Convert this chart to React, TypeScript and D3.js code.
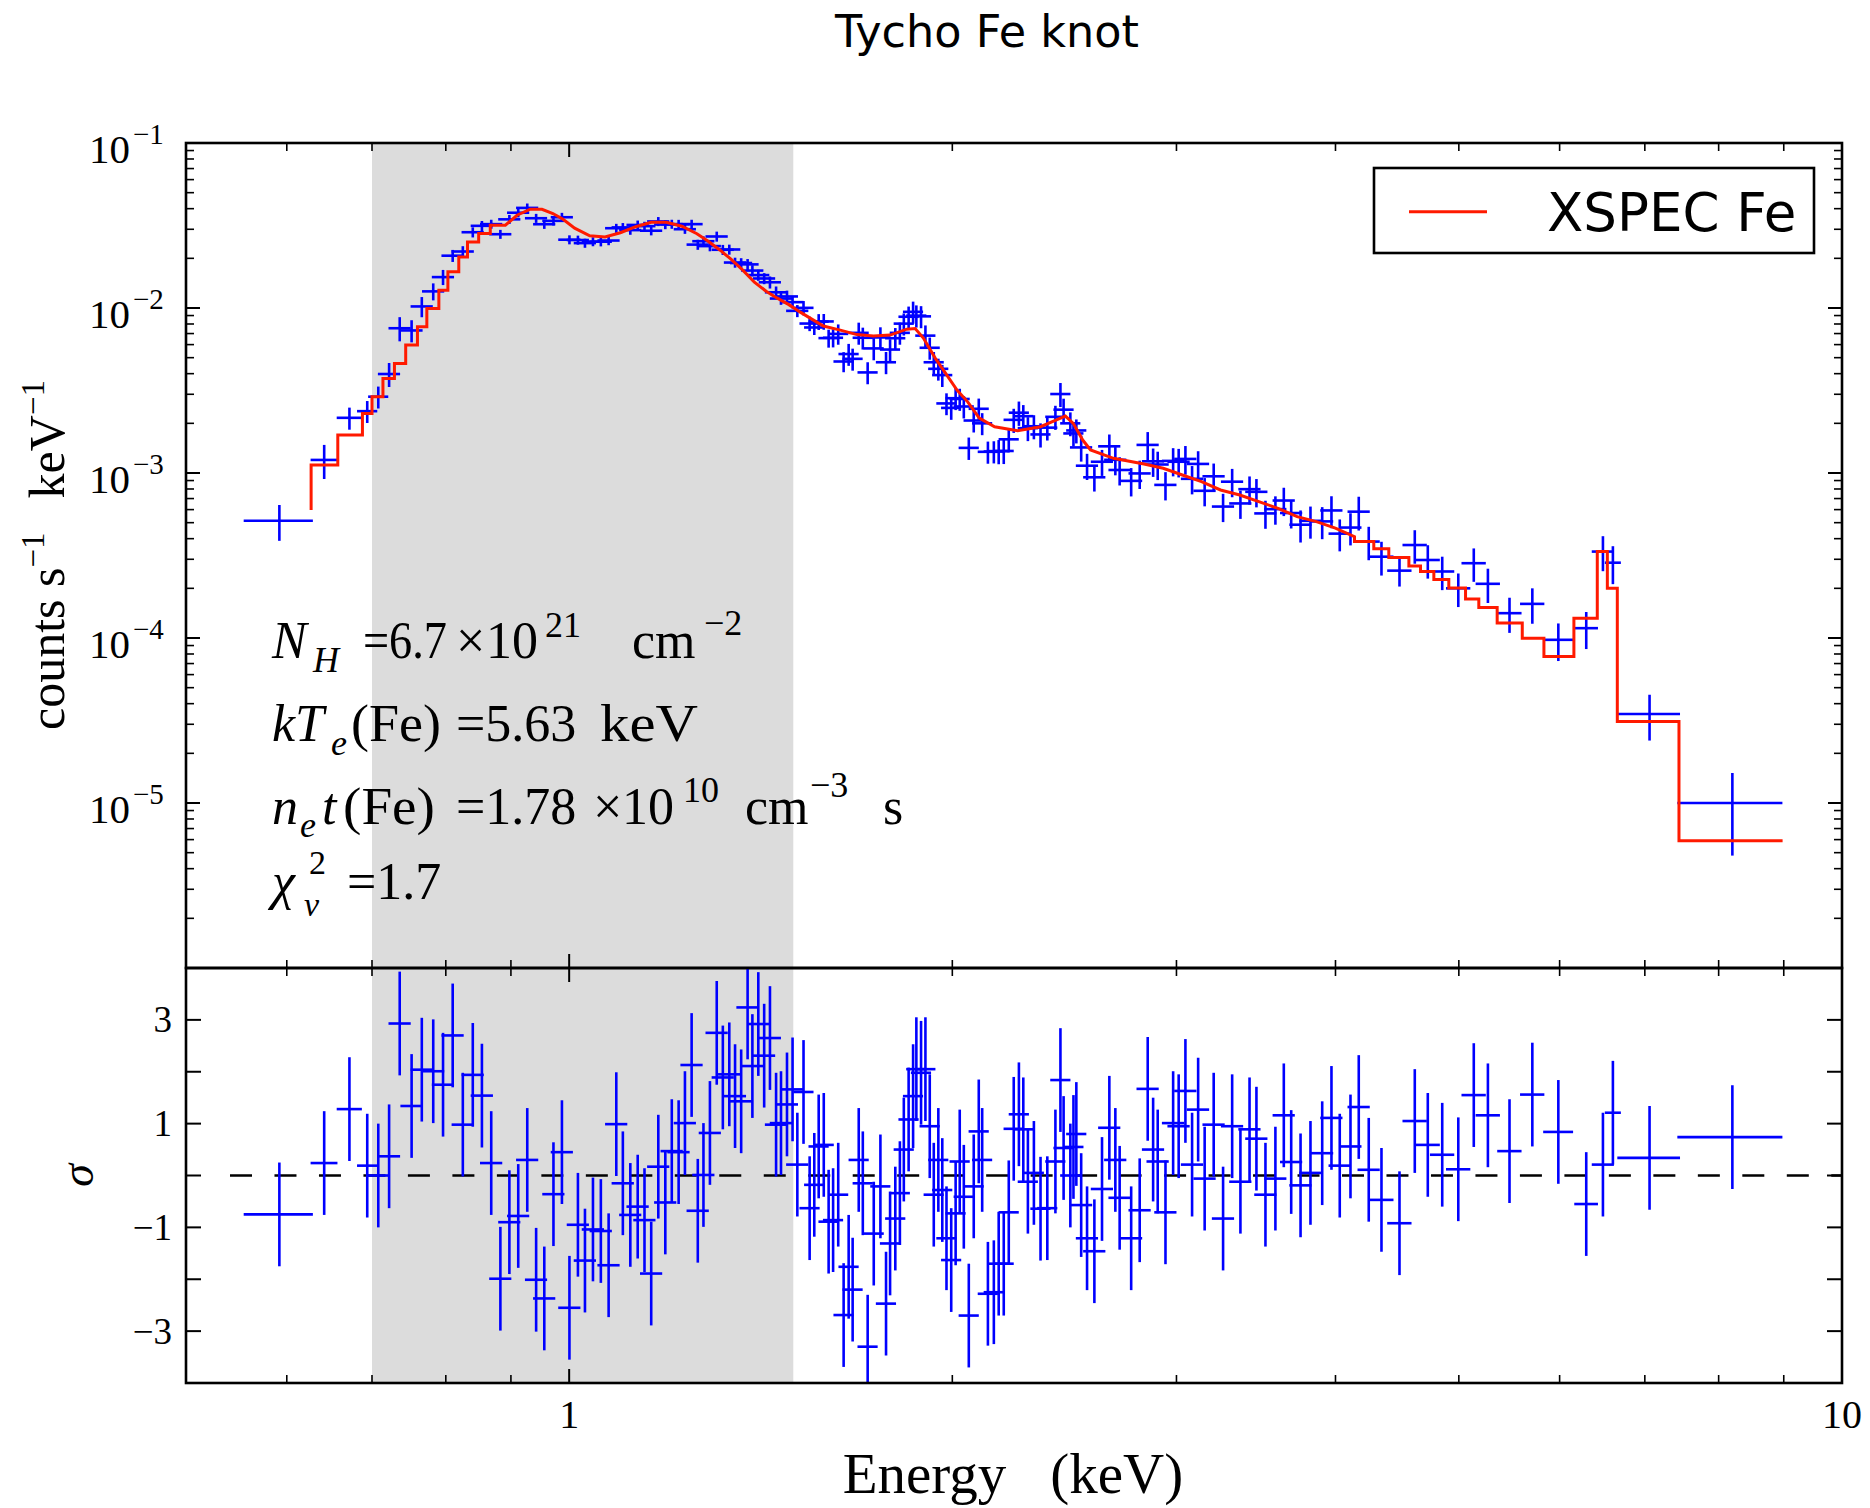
import React from "react";
import * as d3 from "d3";

// ---------------- data ----------------
const energyKeV = [
  0.592, 0.642, 0.672, 0.694, 0.708, 0.722, 0.736, 0.752, 0.766, 0.782,
  0.796, 0.81, 0.825, 0.84, 0.854, 0.8685, 0.883, 0.8975, 0.912, 0.927,
  0.942, 0.956, 0.972, 0.987, 1.0005, 1.016, 1.029, 1.044, 1.059, 1.074,
  1.089, 1.102, 1.117, 1.132, 1.146, 1.16, 1.175, 1.19, 1.204, 1.219,
  1.233, 1.248, 1.262, 1.275, 1.29, 1.306, 1.3205, 1.336, 1.35, 1.365,
  1.381, 1.393, 1.408, 1.423, 1.438, 1.454, 1.467, 1.483, 1.498, 1.511,
  1.528, 1.545, 1.558, 1.5705, 1.585, 1.599, 1.612, 1.627, 1.643, 1.658,
  1.67, 1.6885, 1.701, 1.716, 1.735, 1.756, 1.774, 1.787, 1.804, 1.819,
  1.832, 1.848, 1.863, 1.874, 1.89, 1.905, 1.92, 1.934, 1.95, 1.964,
  1.979, 1.996, 2.012, 2.027, 2.042, 2.0605, 2.079, 2.098, 2.111, 2.133,
  2.156, 2.175, 2.195, 2.215, 2.235, 2.256, 2.274, 2.293, 2.318, 2.346,
  2.375, 2.41, 2.432, 2.446, 2.476, 2.49, 2.503, 2.525, 2.552, 2.586,
  2.622, 2.657, 2.686, 2.707, 2.764, 2.807, 2.848, 2.876, 2.9, 2.941,
  2.982, 3.012, 3.049, 3.086, 3.12, 3.157, 3.209, 3.264, 3.318, 3.368,
  3.424, 3.467, 3.524, 3.588, 3.643, 3.692, 3.755, 3.823, 3.905, 3.971,
  4.031, 4.11, 4.172, 4.248, 4.347, 4.491, 4.617, 4.727, 4.852, 4.995,
  5.137, 5.27, 5.48, 5.711, 5.986, 6.296, 6.489, 6.607, 7.06, 8.201,
];

const energyHalfWidthKeV = [
  0.037, 0.0156, 0.0153, 0.0127, 0.0129, 0.0145, 0.0148, 0.0151, 0.0154, 0.0157,
  0.016, 0.0163, 0.0166, 0.0169, 0.0172, 0.0175, 0.0177, 0.018, 0.0183, 0.0186,
  0.0189, 0.0192, 0.0195, 0.0198, 0.0201, 0.0204, 0.0207, 0.021, 0.0213, 0.0216,
  0.0219, 0.0222, 0.0224, 0.0228, 0.023, 0.0233, 0.0236, 0.0239, 0.0242, 0.0245,
  0.0248, 0.0251, 0.0254, 0.0256, 0.0259, 0.0263, 0.0265, 0.0269, 0.0271, 0.0274,
  0.0278, 0.028, 0.0283, 0.0286, 0.0289, 0.0292, 0.0295, 0.0298, 0.0301, 0.0304,
  0.0279, 0.0282, 0.0285, 0.0287, 0.029, 0.0292, 0.0294, 0.0297, 0.03, 0.0303,
  0.0305, 0.0308, 0.0311, 0.0313, 0.0317, 0.032, 0.0324, 0.0326, 0.033, 0.0332,
  0.0334, 0.0338, 0.034, 0.0342, 0.0345, 0.0348, 0.0351, 0.0353, 0.0356, 0.0359,
  0.0361, 0.0364, 0.0367, 0.037, 0.0373, 0.0376, 0.038, 0.0383, 0.0385, 0.039,
  0.0394, 0.0397, 0.04, 0.0404, 0.0408, 0.0412, 0.0415, 0.0419, 0.0423, 0.0428,
  0.0434, 0.044, 0.0444, 0.0447, 0.0452, 0.0455, 0.0457, 0.0508, 0.0513, 0.052,
  0.0527, 0.0534, 0.054, 0.0544, 0.0556, 0.0564, 0.0572, 0.0578, 0.0583, 0.0591,
  0.06, 0.0606, 0.0613, 0.062, 0.0627, 0.0635, 0.0645, 0.0656, 0.0667, 0.0677,
  0.0688, 0.0697, 0.0708, 0.0721, 0.0732, 0.0742, 0.0755, 0.0768, 0.0785, 0.0798,
  0.081, 0.0826, 0.0839, 0.0854, 0.0955, 0.0988, 0.1016, 0.104, 0.1067, 0.11,
  0.113, 0.116, 0.1206, 0.1256, 0.162, 0.135, 0.13, 0.096, 0.4, 0.777,
];

const countRate = [
  5.14e-4, 1.2e-3, 2.16e-3, 2.37e-3, 2.9e-3, 3.98e-3, 7.54e-3, 7.31e-3, 1.022e-2, 1.261e-2,
  1.539e-2, 2.075e-2, 2.2e-2, 2.879e-2, 3.148e-2, 3.223e-2, 2.8e-2, 3.446e-2, 3.779e-2, 4.043e-2,
  3.5e-2, 3.219e-2, 3.375e-2, 3.549e-2, 2.594e-2, 2.582e-2, 2.473e-2, 2.526e-2, 2.522e-2, 2.564e-2,
  3.045e-2, 3.079e-2, 2.965e-2, 3.187e-2, 3.134e-2, 2.94e-2, 3.347e-2, 3.205e-2, 3.223e-2, 3.219e-2,
  3.003e-2, 3.223e-2, 2.422e-2, 2.54e-2, 2.372e-2, 2.713e-2, 2.254e-2, 2.263e-2, 1.886e-2, 1.873e-2,
  1.838e-2, 1.686e-2, 1.583e-2, 1.51e-2, 1.432e-2, 1.245e-2, 1.141e-2, 1.175e-2, 1.085e-2, 9.61e-3,
  1.002e-2, 8.05e-3, 7.62e-3, 8.27e-3, 8.29e-3, 6.57e-3, 6.6e-3, 6.97e-3, 4.74e-3, 5.26e-3,
  4.92e-3, 7.07e-3, 6.6e-3, 4.07e-3, 5.69e-3, 6.63e-3, 4.69e-3, 5.6e-3, 6.56e-3, 7.07e-3,
  8.04e-3, 8.85e-3, 9.48e-3, 8.99e-3, 8.9e-3, 6.8e-3, 5.74e-3, 4.69e-3, 4.28e-3, 3.92e-3,
  2.64e-3, 2.48e-3, 2.84e-3, 2.81e-3, 2.53e-3, 1.42e-3, 2.08e-3, 2.45e-3, 2.0e-3, 1.344e-3,
  1.35e-3, 1.357e-3, 1.36e-3, 1.6e-3, 2.1e-3, 2.32e-3, 2.21e-3, 1.87e-3, 1.92e-3, 1.713e-3,
  1.883e-3, 2.19e-3, 3.01e-3, 2.42e-3, 2.0e-3, 1.737e-3, 1.811e-3, 1.429e-3, 1.107e-3, 9.42e-4,
  1.17e-3, 1.451e-3, 1.202e-3, 1.043e-3, 8.96e-4, 9.94e-4, 1.48e-3, 1.177e-3, 1.126e-3, 8.47e-4,
  1.184e-3, 1.17e-3, 1.217e-3, 9.22e-4, 1.135e-3, 7.8e-4, 9.55e-4, 6.26e-4, 8.86e-4, 6.54e-4,
  7.98e-4, 7.69e-4, 5.69e-4, 6.04e-4, 6.81e-4, 5.72e-4, 4.86e-4, 5.13e-4, 5.09e-4, 5.93e-4,
  4.29e-4, 4.67e-4, 5.83e-4, 3.84e-4, 3.11e-4, 2.56e-4, 3.66e-4, 2.97e-4, 2.53e-4, 2.0e-4,
  2.84e-4, 2.13e-4, 1.414e-4, 1.61e-4, 9.75e-5, 1.147e-4, 3.34e-4, 2.86e-4, 3.46e-5, 1.0e-5,
];

const countRateErr = [
  1.26e-4, 2.8e-4, 3.3e-4, 3.6e-4, 4.4e-4, 6.6e-4, 1.26e-3, 1.12e-3, 1.43e-3, 1.49e-3,
  1.62e-3, 1.74e-3, 1.69e-3, 2.02e-3, 2.2e-3, 2.03e-3, 1.76e-3, 2.17e-3, 2.38e-3, 2.55e-3,
  2.2e-3, 2.03e-3, 2.13e-3, 2.24e-3, 1.63e-3, 1.63e-3, 1.56e-3, 1.59e-3, 1.59e-3, 1.62e-3,
  1.92e-3, 1.94e-3, 1.87e-3, 2.01e-3, 1.97e-3, 1.85e-3, 2.11e-3, 2.02e-3, 2.03e-3, 2.03e-3,
  1.89e-3, 2.03e-3, 1.7e-3, 1.78e-3, 1.66e-3, 1.9e-3, 1.58e-3, 1.58e-3, 1.32e-3, 1.31e-3,
  1.42e-3, 1.3e-3, 1.22e-3, 1.16e-3, 1.2e-3, 1.05e-3, 9.6e-4, 9.9e-4, 9.1e-4, 8.1e-4,
  1.0e-3, 8.1e-4, 7.6e-4, 9.1e-4, 9.1e-4, 8.2e-4, 8.3e-4, 9.8e-4, 6.6e-4, 8.0e-4,
  7.5e-4, 1.08e-3, 1.0e-3, 6.2e-4, 8.7e-4, 1.01e-3, 7.2e-4, 8.6e-4, 1.0e-3, 1.08e-3,
  1.23e-3, 1.35e-3, 1.45e-3, 1.38e-3, 1.36e-3, 1.04e-3, 8.8e-4, 7.2e-4, 6.5e-4, 6.0e-4,
  4.0e-4, 3.8e-4, 4.35e-4, 4.3e-4, 3.9e-4, 2.2e-4, 3.2e-4, 3.75e-4, 3.05e-4, 2.06e-4,
  2.07e-4, 2.27e-4, 2.27e-4, 2.67e-4, 3.5e-4, 3.9e-4, 3.7e-4, 3.1e-4, 3.2e-4, 2.86e-4,
  3.1e-4, 3.65e-4, 5.0e-4, 4.0e-4, 3.3e-4, 2.9e-4, 3.0e-4, 2.57e-4, 2.0e-4, 1.7e-4,
  2.1e-4, 2.6e-4, 2.34e-4, 2.03e-4, 1.75e-4, 1.94e-4, 2.9e-4, 2.3e-4, 2.2e-4, 1.65e-4,
  2.3e-4, 2.3e-4, 2.4e-4, 1.8e-4, 2.2e-4, 1.52e-4, 1.86e-4, 1.22e-4, 1.73e-4, 1.27e-4,
  1.55e-4, 1.5e-4, 1.1e-4, 1.18e-4, 1.33e-4, 1.11e-4, 1.07e-4, 1.13e-4, 1.12e-4, 1.3e-4,
  9.4e-5, 1.03e-4, 1.35e-4, 8.8e-5, 7.2e-5, 5.1e-5, 8.4e-5, 6.8e-5, 5.8e-5, 4.6e-5,
  6.5e-5, 5.0e-5, 3.4e-5, 3.9e-5, 2.5e-5, 2.9e-5, 8.0e-5, 7.4e-5, 1.07e-5, 5.2e-6,
];

const residualSigma = [
  -0.75, 0.24, 1.28, 0.19, 0.0, 0.37, 2.93, 1.34, 2.04, 2.01,
  1.75, 2.7, 0.98, 1.94, 1.54, 0.24, -1.99, -0.9, -0.78, 0.3,
  -2.01, -2.37, -0.36, 0.45, -2.55, -0.95, -1.64, -1.04, -1.07, -1.73,
  0.99, -0.15, -0.76, -0.6, -0.86, -1.89, 0.17, -0.52, 0.47, 0.45,
  1.01, 2.13, -0.68, 0.01, 0.82, 2.75, 1.89, 1.95, 1.53, 1.43,
  3.24, 2.11, 2.92, 2.31, 2.65, 0.98, 1.01, 1.37, 1.66, 0.21,
  1.61, -0.63, -0.18, 0.56, 0.59, -0.89, -0.86, -0.37, -2.69, -1.76,
  -2.2, 0.3, -0.15, -3.3, -1.12, -0.21, -2.47, -1.31, -0.83, -0.34,
  0.5, 1.08, 1.53, 2.05, 1.98, 2.05, 0.95, -0.37, 0.3, -0.28,
  -1.21, -1.63, -0.73, 0.27, -0.41, -2.7, -0.21, 0.85, 0.3, -2.28,
  -2.25, -1.7, -1.7, -0.71, 0.9, 1.18, 0.89, -0.12, 0.05, -0.64,
  -0.63, 0.27, 1.84, 0.53, 0.0, 0.55, 0.8, -0.57, -1.21, -1.46,
  -0.26, 0.92, 0.3, -0.43, -1.21, -0.67, 1.67, 0.5, 0.27, -0.71,
  1.01, 0.95, 1.63, 0.21, 1.27, -0.06, 0.98, -0.83, 0.95, -0.12,
  0.89, 0.71, -0.37, -0.06, 1.16, 0.26, -0.19, 0.05, 0.43, 1.11,
  0.19, 0.56, 1.32, 0.11, -0.47, -0.92, 1.05, 0.59, 0.4, 0.12,
  1.55, 1.16, 0.47, 1.56, 0.84, -0.55, 0.21, 1.21, 0.34, 0.74,
];

// XSPEC model: value of each model bin, keyed by the bin's upper edge
const modelUpperEdgeKeV = [
  0.627, 0.658, 0.688, 0.7, 0.714, 0.729, 0.744, 0.76, 0.773, 0.79, 0.803, 0.819, 0.832, 0.849, 0.867, 0.891,
  0.91, 0.932, 0.952, 0.971, 0.989, 1.01, 1.038, 1.067, 1.097, 1.128, 1.16, 1.192, 1.226, 1.26,
  1.286, 1.314, 1.34, 1.369, 1.398, 1.428, 1.457, 1.488, 1.519, 1.551, 1.584,
  1.633, 1.683, 1.734, 1.787, 1.842, 1.87, 1.898, 1.939, 1.973, 2.017, 2.057, 2.1,
  2.159, 2.251, 2.346, 2.412, 2.454, 2.489, 2.532, 2.568,
  2.677, 2.829, 2.929, 3.032, 3.139, 3.249, 3.364, 3.482, 3.605, 3.732, 3.864, 3.999, 4.14,
  4.287, 4.405, 4.568, 4.665, 4.779, 4.91, 5.061, 5.184, 5.359, 5.608, 5.832, 6.157, 6.423, 6.541, 6.66, 7.446, 8.981,
];
const modelCountRate = [
  5.97e-4, 1.118e-3, 1.699e-3, 2.298e-3, 2.897e-3, 3.745e-3, 4.617e-3, 5.958e-3, 7.689e-3, 9.94e-3, 1.283e-2, 1.656e-2, 2.04e-2, 2.515e-2, 2.827e-2, 3.174e-2,
  3.649e-2, 3.968e-2, 3.968e-2, 3.737e-2, 3.451e-2, 3.045e-2, 2.742e-2, 2.696e-2, 2.859e-2, 3.109e-2, 3.309e-2, 3.309e-2, 3.13e-2, 2.819e-2,
  2.54e-2, 2.24e-2, 1.976e-2, 1.695e-2, 1.434e-2, 1.265e-2, 1.147e-2, 1.048e-2, 9.44e-3, 8.56e-3, 7.77e-3,
  7.34e-3, 6.9e-3, 6.755e-3, 6.85e-3, 7.44e-3, 7.5e-3, 6.57e-3, 4.97e-3, 4.09e-3, 3.18e-3, 2.69e-3, 2.153e-3,
  1.907e-3, 1.804e-3, 1.907e-3, 2.094e-3, 2.214e-3, 2.0e-3, 1.584e-3, 1.378e-3,
  1.227e-3, 1.134e-3, 1.068e-3, 9.72e-4, 8.86e-4, 7.89e-4, 7.36e-4, 6.7e-4, 6.11e-4, 5.44e-4, 5.07e-4, 4.63e-4, 4.11e-4,
  3.84e-4, 3.47e-4, 3.08e-4, 2.735e-4, 2.532e-4, 2.265e-4, 2.012e-4, 1.726e-4, 1.533e-4, 1.235e-4, 9.98e-5, 7.72e-5, 1.319e-4, 3.34e-4, 2.003e-4, 3.12e-5, 5.91e-6,
];

// bins narrower than the pixel grid look smooth: model drawn as steps only below / above these energies
const modelStepBelowKeV = 0.9;
const modelStepAboveKeV = 4.1;

const shadedBandKeV = [0.7, 1.5];
const xTickLabels = ["1", "10"];
const xTickLabelValues = [1, 10];
const yTickExponents = [-1, -2, -3, -4, -5];
const residualTickLabels = [3, 1, -1, -3];
const residualTickValues = [-3, -2, -1, 0, 1, 2, 3];

const titleText = "Tycho Fe knot";
const legendLabel = "XSPEC Fe";

// ---------------- chart ----------------
const W = 1870;
const H = 1508;
const LEFT = 186;
const RIGHT = 1842;
const TOP1 = 143;
const BOT1 = 968;
const BOT2 = 1383;

const BLUE = "#0000ff";
const RED = "#ff1a00";
const SERIF = "'Liberation Serif', 'Times New Roman', serif";
const SANS = "'DejaVu Sans', 'Bitstream Vera Sans', sans-serif";

const isPow10 = (v: number) => Math.abs(Math.log10(v) - Math.round(Math.log10(v))) < 1e-6;

export default function App() {
  const x = d3.scaleLog().domain([0.5, 10]).range([LEFT, RIGHT]);
  const yTop = d3.scaleLog().domain([1e-6, 1e-1]).range([BOT1, TOP1]);
  const yRes = d3.scaleLinear().domain([-4, 4]).range([BOT2, BOT1]);

  // model step path
  const pts: [number, number][] = [];
  modelUpperEdgeKeV.forEach((e, i) => {
    if (i > 0) {
      const prev = modelUpperEdgeKeV[i - 1];
      if (e <= modelStepBelowKeV || prev >= modelStepAboveKeV) pts.push([prev, modelCountRate[i]]);
    }
    pts.push([e, modelCountRate[i]]);
  });
  const modelPath =
    d3
      .line<[number, number]>()
      .x((d) => x(d[0]))
      .y((d) => yTop(d[1]))(pts) || "";

  const xTicks = x.ticks().filter((v) => v > 0.5 && v < 10);
  const yTicks = yTop.ticks().filter((v) => v > 1e-6 && v < 1e-1);

  const tickStroke = "#000";
  const xTickMarks = (yBase: number, dir: number, key: string) =>
    xTicks.map((v, i) => {
      const len = isPow10(v) ? 14 : 8;
      return (
        <line
          key={key + i}
          x1={x(v)}
          x2={x(v)}
          y1={yBase}
          y2={yBase + dir * len}
          stroke={tickStroke}
          strokeWidth={isPow10(v) ? 2 : 1.6}
        />
      );
    });

  const band = [x(shadedBandKeV[0]), x(shadedBandKeV[1])];
  const zeroY = yRes(0);
  const AF = 52; // annotation font size
  const AS = 36; // annotation sub/superscript size

  return (
    <svg
      width={W}
      height={H}
      viewBox={`0 0 ${W} ${H}`}
      style={{ position: "absolute", left: 0, top: 0, display: "block", background: "#fff" }}
    >
      <defs>
        <clipPath id="clipTop">
          <rect x={LEFT} y={TOP1} width={RIGHT - LEFT} height={BOT1 - TOP1} />
        </clipPath>
        <clipPath id="clipRes">
          <rect x={LEFT} y={BOT1} width={RIGHT - LEFT} height={BOT2 - BOT1} />
        </clipPath>
      </defs>
      <rect x={0} y={0} width={W} height={H} fill="#fff" />

      {/* title */}
      <text x={987} y={47} textAnchor="middle" fontFamily={SANS} fontSize={44.5} fill="#000">
        {titleText}
      </text>

      {/* shaded energy band */}
      <rect x={band[0]} y={TOP1} width={band[1] - band[0]} height={BOT2 - TOP1} fill="#dcdcdc" />

      {/* ---------- top panel ---------- */}
      <g clipPath="url(#clipTop)">
        {energyKeV.map((e, i) => {
          const v = countRate[i];
          const s = countRateErr[i];
          const cx = x(e);
          const cy = yTop(v);
          return (
            <g key={"d" + i} stroke={BLUE} strokeWidth={2.6}>
              <line x1={x(e - energyHalfWidthKeV[i])} x2={x(e + energyHalfWidthKeV[i])} y1={cy} y2={cy} />
              <line x1={cx} x2={cx} y1={yTop(Math.max(v - s, 1e-7))} y2={yTop(v + s)} />
            </g>
          );
        })}
        <path d={modelPath} fill="none" stroke={RED} strokeWidth={3} strokeLinejoin="miter" />
      </g>

      {/* top panel axes */}
      <rect x={LEFT} y={TOP1} width={RIGHT - LEFT} height={BOT1 - TOP1} fill="none" stroke="#000" strokeWidth={2.6} />
      {xTickMarks(TOP1, 1, "tt")}
      {xTickMarks(BOT1, -1, "tb")}
      {yTicks.map((v, i) => {
        const len = isPow10(v) ? 14 : 8;
        const yy = yTop(v);
        return (
          <g key={"yt" + i} stroke={tickStroke} strokeWidth={isPow10(v) ? 2 : 1.6}>
            <line x1={LEFT} x2={LEFT + len} y1={yy} y2={yy} />
            <line x1={RIGHT} x2={RIGHT - len} y1={yy} y2={yy} />
          </g>
        );
      })}
      {yTickExponents.map((p) => {
        const yy = yTop(Math.pow(10, p));
        return (
          <g key={"yl" + p} fontFamily={SERIF} fill="#000">
            <text x={130} y={yy + 19.5} textAnchor="end" fontSize={41}>
              10
            </text>
            <text x={133} y={yy + 1} fontSize={29}>
              {"\u2212" + Math.abs(p)}
            </text>
          </g>
        );
      })}

      {/* y label top */}
      <text transform="translate(64,555) rotate(-90)" textAnchor="middle" fontFamily={SERIF} fontSize={50} fill="#000">
        <tspan>counts s</tspan>
        <tspan fontSize={33} dy={-20}>{"\u22121"}</tspan>
        <tspan dy={20} dx={34}>keV</tspan>
        <tspan fontSize={33} dy={-20}>{"\u22121"}</tspan>
      </text>

      {/* legend */}
      <rect x={1374} y={168} width={440} height={85} fill="#fff" stroke="#000" strokeWidth={2.6} />
      <line x1={1409} x2={1487} y1={211.7} y2={211.7} stroke={RED} strokeWidth={3} />
      <text x={1547} y={230.7} fontFamily={SANS} fontSize={53} fill="#000">
        {legendLabel}
      </text>

      {/* fit annotations */}
      <g fontFamily={SERIF} fill="#000" fontSize={AF}>
        <text x={272} y={658} fontStyle="italic">N</text>
        <text x={313} y={672} fontStyle="italic" fontSize={AS}>H</text>
        <text x={363} y={658} textLength={84} lengthAdjust="spacingAndGlyphs">=6.7</text>
        <text x={456} y={658}>{"\u00d7"}</text>
        <text x={486} y={658}>10</text>
        <text x={545} y={637} fontSize={AS}>21</text>
        <text x={632} y={658}>cm</text>
        <text x={704} y={635} fontSize={AS}>{"\u22122"}</text>

        <text x={272} y={741} fontStyle="italic">kT</text>
        <text x={331} y={755} fontStyle="italic" fontSize={AS}>e</text>
        <text x={351} y={741} textLength={90} lengthAdjust="spacingAndGlyphs">(Fe)</text>
        <text x={456} y={741}>=5.63</text>
        <text x={600} y={741} textLength={98} lengthAdjust="spacingAndGlyphs">keV</text>

        <text x={272} y={824} fontStyle="italic">n</text>
        <text x={300} y={837} fontStyle="italic" fontSize={AS}>e</text>
        <text x={322} y={824} fontStyle="italic">t</text>
        <text x={343} y={824} textLength={92} lengthAdjust="spacingAndGlyphs">(Fe)</text>
        <text x={456} y={824}>=1.78</text>
        <text x={593} y={824}>{"\u00d7"}</text>
        <text x={622} y={824}>10</text>
        <text x={683} y={802} fontSize={AS}>10</text>
        <text x={745} y={824}>cm</text>
        <text x={810} y={797} fontSize={AS}>{"\u22123"}</text>
        <text x={883} y={824}>s</text>

        <text x={272} y={899} fontStyle="italic">{"\u03c7"}</text>
        <text x={304} y={916} fontStyle="italic" fontSize={34}>{"\u03bd"}</text>
        <text x={309} y={874} fontSize={34}>2</text>
        <text x={347} y={899}>=1.7</text>
      </g>

      {/* ---------- residual panel ---------- */}
      <g clipPath="url(#clipRes)">
        <line x1={230} x2={RIGHT} y1={zeroY} y2={zeroY} stroke="#000" strokeWidth={2.6} strokeDasharray="22 22.48" />
        {energyKeV.map((e, i) => {
          const r = residualSigma[i];
          const cx = x(e);
          const cy = yRes(r);
          return (
            <g key={"r" + i} stroke={BLUE} strokeWidth={2.6}>
              <line x1={x(e - energyHalfWidthKeV[i])} x2={x(e + energyHalfWidthKeV[i])} y1={cy} y2={cy} />
              <line x1={cx} x2={cx} y1={yRes(r - 1)} y2={yRes(r + 1)} />
            </g>
          );
        })}
      </g>
      <rect x={LEFT} y={BOT1} width={RIGHT - LEFT} height={BOT2 - BOT1} fill="none" stroke="#000" strokeWidth={2.6} />
      {xTickMarks(BOT1, 1, "rt")}
      {xTickMarks(BOT2, -1, "rb")}
      {residualTickValues.map((v) => {
        const yy = yRes(v);
        return (
          <g key={"rt" + v} stroke={tickStroke} strokeWidth={2}>
            <line x1={LEFT} x2={LEFT + 15} y1={yy} y2={yy} />
            <line x1={RIGHT} x2={RIGHT - 15} y1={yy} y2={yy} />
          </g>
        );
      })}
      {residualTickLabels.map((v) => (
        <text key={"rl" + v} x={172} y={yRes(v) + 12.5} textAnchor="end" fontFamily={SERIF} fontSize={37} fill="#000">
          {v < 0 ? "\u2212" + Math.abs(v) : String(v)}
        </text>
      ))}
      <text transform={`translate(93,${(BOT1 + BOT2) / 2}) rotate(-90)`} textAnchor="middle" fontFamily={SERIF} fontStyle="italic" fontSize={46} fill="#000">
        {"\u03c3"}
      </text>

      {/* x tick labels */}
      {xTickLabelValues.map((v, i) => (
        <text key={"xl" + i} x={x(v)} y={1427.5} textAnchor="middle" fontFamily={SERIF} fontSize={40} fill="#000">
          {xTickLabels[i]}
        </text>
      ))}

      {/* x label */}
      <text x={1013} y={1493} textAnchor="middle" fontFamily={SERIF} fontSize={57} fill="#000">
        <tspan>Energy</tspan>
        <tspan dx={44}>(keV)</tspan>
      </text>
    </svg>
  );
}
